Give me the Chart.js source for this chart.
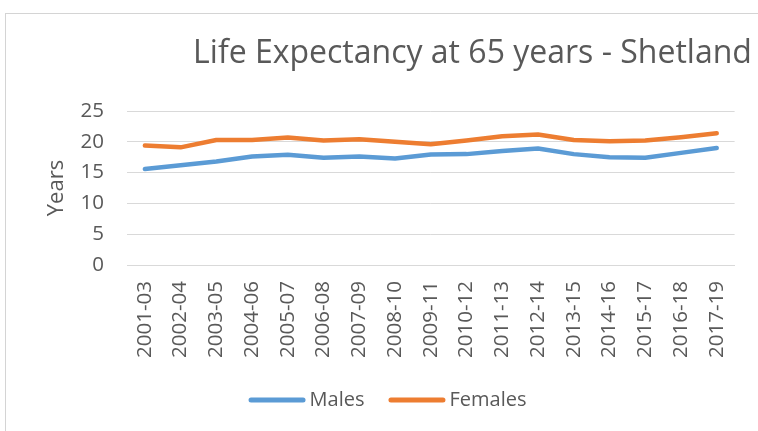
<!DOCTYPE html>
<html>
<head>
<meta charset="utf-8">
<script src="https://cdn.jsdelivr.net/npm/chart.js@4.4.0/dist/chart.umd.min.js"></script>
<style>
  html, body { margin: 0; padding: 0; background: #ffffff; overflow: hidden; }
  #wrap { position: relative; width: 758px; height: 431px; overflow: hidden; }
  #frame { position: absolute; left: 5px; top: 13px; width: 900px; height: 600px; border: 1px solid #d4d4d4; box-sizing: border-box; }
  #c { position: absolute; left: 0; top: 0; }
</style>
</head>
<body>
<div id="wrap">
  <div id="frame"></div>
  <canvas id="c" width="758" height="431"></canvas>
</div>
<script>
const chartTitle = "Life Expectancy at 65 years - Shetland";
const yAxisTitle = "Years";
const categories = ["2001-03","2002-04","2003-05","2004-06","2005-07","2006-08","2007-09","2008-10","2009-11","2010-12","2011-13","2012-14","2013-15","2014-16","2015-17","2016-18","2017-19"];
const males   = [15.6, 16.2, 16.8, 17.6, 17.9, 17.4, 17.6, 17.3, 17.95, 18.0, 18.5, 18.9, 18.0, 17.5, 17.4, 18.2, 19.0];
const females = [19.4, 19.1, 20.3, 20.3, 20.7, 20.2, 20.4, 20.0, 19.6, 20.2, 20.9, 21.2, 20.3, 20.1, 20.2, 20.75, 21.4];
const yTicks = [0, 5, 10, 15, 20, 25];

const textColor = '#595959';
const fontFamily = "'Open Sans', 'DejaVu Sans', sans-serif";
Chart.defaults.font.family = fontFamily;
Chart.defaults.color = textColor;

const titlePlugin = {
  id: 'offsetTitle',
  afterDraw(chart) {
    const ctx = chart.ctx;
    ctx.save();
    ctx.font = "32px " + fontFamily;
    ctx.fillStyle = textColor;
    ctx.textAlign = 'center';
    ctx.textBaseline = 'alphabetic';
    ctx.fillText(chartTitle, 472.5, 62.7);
    ctx.restore();
  }
};

const legendPlugin = {
  id: 'lineLegend',
  afterDraw(chart) {
    const ctx = chart.ctx;
    const lineLen = 57, gap = 4, itemGap = 24, cy = 400, cx = 387.5;
    ctx.save();
    ctx.font = "20px " + fontFamily;
    const items = chart.data.datasets.map(ds => ({
      text: ds.label, color: ds.borderColor, w: lineLen + gap + ctx.measureText(ds.label).width
    }));
    const total = items.reduce((s, it) => s + it.w, 0) + itemGap * (items.length - 1);
    let x = cx - total / 2;
    items.forEach(it => {
      ctx.strokeStyle = it.color;
      ctx.lineWidth = 5;
      ctx.lineCap = 'round';
      ctx.beginPath();
      ctx.moveTo(x + 2.5, cy);
      ctx.lineTo(x + lineLen - 2.5, cy);
      ctx.stroke();
      ctx.fillStyle = textColor;
      ctx.textAlign = 'left';
      ctx.textBaseline = 'middle';
      ctx.fillText(it.text, x + lineLen + gap, cy);
      x += it.w + itemGap;
    });
    ctx.restore();
  }
};

new Chart(document.getElementById('c'), {
  type: 'line',
  data: {
    labels: categories,
    datasets: [
      { label: 'Males', data: males, borderColor: '#5B9BD5', backgroundColor: '#5B9BD5' },
      { label: 'Females', data: females, borderColor: '#ED7D31', backgroundColor: '#ED7D31' }
    ]
  },
  options: {
    responsive: false,
    animation: false,
    devicePixelRatio: 1,
    layout: { padding: { left: 40, right: 23, top: 111, bottom: 66 } },
    elements: {
      line: { borderWidth: 4.5, tension: 0, borderCapStyle: 'round', borderJoinStyle: 'round' },
      point: { radius: 0, hoverRadius: 0 }
    },
    plugins: {
      legend: { display: false },
      title: { display: false },
      tooltip: { enabled: false }
    },
    scales: {
      x: {
        offset: true,
        grid: { display: false, drawTicks: false },
        border: { display: true, color: '#d9d9d9', width: 1 },
        ticks: {
          autoSkip: false, minRotation: 90, maxRotation: 90, padding: 16,
          color: textColor, font: { size: 20.5 }
        },
        afterFit(scale) { scale.height = 100; }
      },
      y: {
        min: 0, max: 25,
        afterBuildTicks(scale) { scale.ticks = yTicks.map(v => ({ value: v })); },
        grid: { color: '#d9d9d9', lineWidth: 1, drawTicks: false },
        border: { display: false },
        ticks: { padding: 23, color: textColor, font: { size: 20.5 } },
        title: { display: true, text: yAxisTitle, color: textColor, font: { size: 22 }, padding: { top: 4, bottom: 0 } },
        afterFit(scale) { scale.width = 87; }
      }
    }
  },
  plugins: [titlePlugin, legendPlugin]
});
</script>
</body>
</html>
